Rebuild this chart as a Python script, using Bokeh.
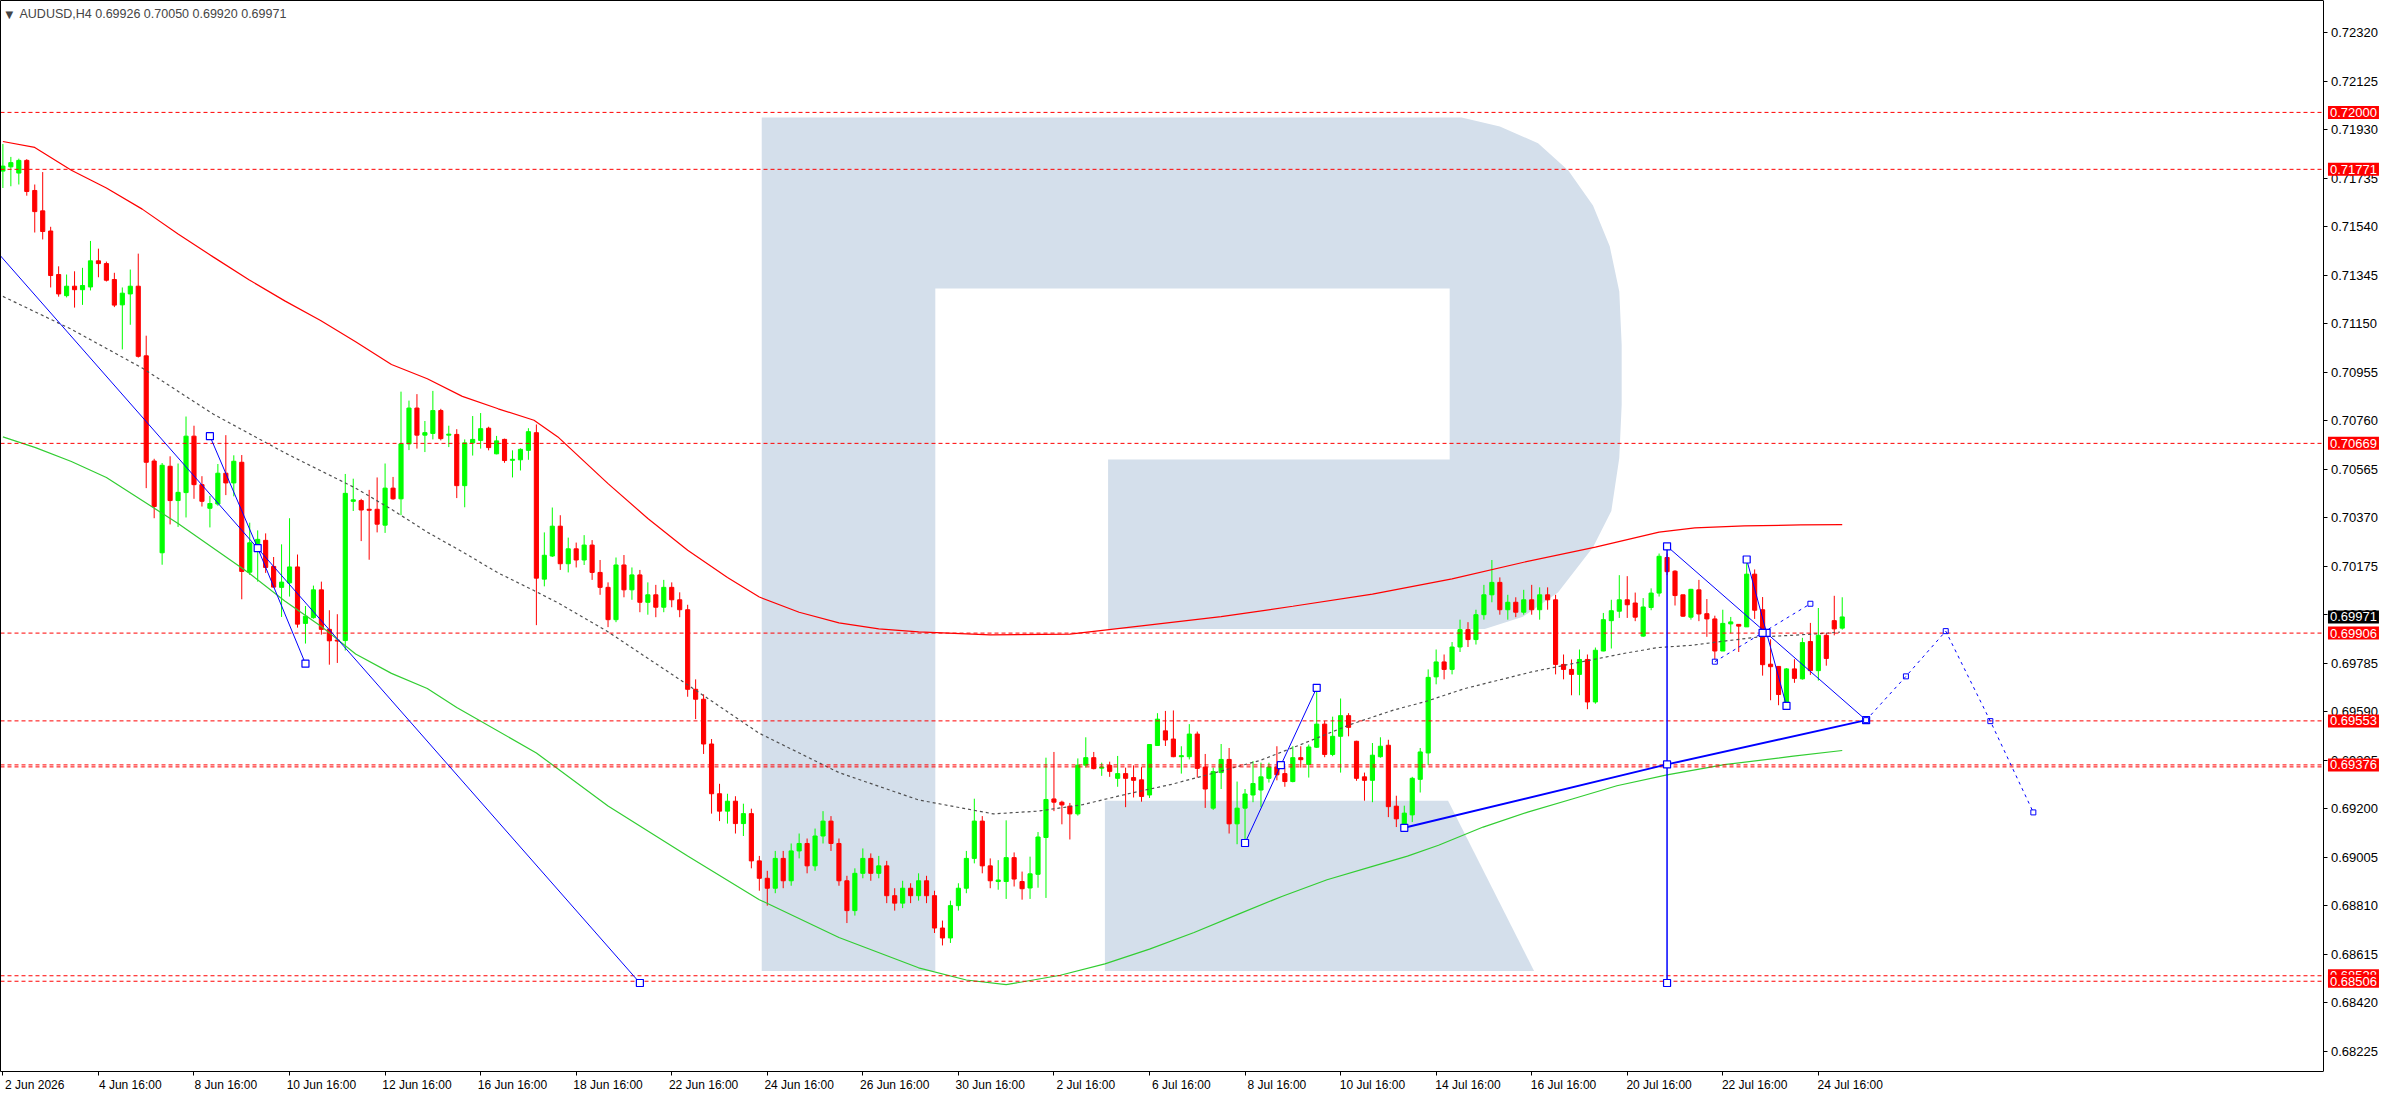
#!/usr/bin/env python3

from bokeh.embed import file_html
from bokeh.models import (ColumnDataSource, FixedTicker, Label, LinearAxis,
                          PrintfTickFormatter, Range1d)
from bokeh.plotting import figure
from bokeh.resources import INLINE

symbol = "AUDUSD,H4"

# H4 bars (bar 0 = 2 Jun 16:00)
opens = [
    0.71764, 0.71781, 0.71756, 0.71807, 0.71686, 0.71604, 0.71523, 0.71348, 0.71263, 0.71301,
    0.71287, 0.71298, 0.71403, 0.71392, 0.71328, 0.71226, 0.71270, 0.71301, 0.71021, 0.70598,
    0.70229, 0.70577, 0.70439, 0.70471, 0.70698, 0.70503, 0.70408, 0.70425, 0.70549, 0.70510,
    0.70593, 0.70151, 0.70240, 0.70279, 0.70174, 0.70090, 0.70108, 0.70172, 0.69945, 0.69968,
    0.70080, 0.69921, 0.69878, 0.69876, 0.70436, 0.70439, 0.70404, 0.70404, 0.70340, 0.70489,
    0.70446, 0.70667, 0.70811, 0.70702, 0.70709, 0.70801, 0.70702, 0.70705, 0.70499, 0.70671,
    0.70681, 0.70730, 0.70627, 0.70685, 0.70601, 0.70603, 0.70641, 0.70712, 0.70123, 0.70216,
    0.70336, 0.70185, 0.70245, 0.70200, 0.70260, 0.70150, 0.70090, 0.69960, 0.70180, 0.70080,
    0.70140, 0.70030, 0.70060, 0.70010, 0.70090, 0.70040, 0.70000, 0.69680, 0.69640, 0.69460,
    0.69260, 0.69190, 0.69230, 0.69140, 0.69180, 0.68990, 0.68920, 0.68880, 0.69000, 0.68910,
    0.69030, 0.69060, 0.68970, 0.69090, 0.69150, 0.69060, 0.68910, 0.68790, 0.68940, 0.69000,
    0.68940, 0.68970, 0.68850, 0.68820, 0.68880, 0.68850, 0.68910, 0.68850, 0.68720, 0.68680,
    0.68810, 0.68880, 0.69000, 0.69150, 0.68970, 0.68907, 0.68907, 0.69003, 0.68907, 0.68881,
    0.68936, 0.69084, 0.69239, 0.69226, 0.69210, 0.69179, 0.69375, 0.69405, 0.69363, 0.69374,
    0.69322, 0.69341, 0.69325, 0.69316, 0.69255, 0.69454, 0.69513, 0.69480, 0.69409, 0.69409,
    0.69500, 0.69367, 0.69202, 0.69345, 0.69398, 0.69139, 0.69202, 0.69255, 0.69275, 0.69322,
    0.69367, 0.69341, 0.69309, 0.69405, 0.69378, 0.69447, 0.69540, 0.69418, 0.69491, 0.69574,
    0.69471, 0.69328, 0.69314, 0.69409, 0.69455, 0.69210, 0.69135, 0.69175, 0.69318, 0.69424,
    0.69730, 0.69790, 0.69760, 0.69850, 0.69920, 0.69880, 0.69980, 0.70060, 0.70110, 0.70000,
    0.70030, 0.69990, 0.70040, 0.70000, 0.70060, 0.70040, 0.69780, 0.69760, 0.69740, 0.69800,
    0.69629, 0.69834, 0.69956, 0.69994, 0.70040, 0.70027, 0.69894, 0.70009, 0.70067, 0.70210,
    0.70155, 0.70060, 0.69970, 0.70080, 0.69984, 0.69963, 0.69834, 0.69943, 0.69941, 0.69931,
    0.70143, 0.70000, 0.69781, 0.69772, 0.69622, 0.69762, 0.69722, 0.69872, 0.69755, 0.69897,
    0.69956, 0.69926,
]
highs = [
    0.71873, 0.71821, 0.71814, 0.71812, 0.71710, 0.71760, 0.71540, 0.71381, 0.71348, 0.71361,
    0.71375, 0.71483, 0.71452, 0.71400, 0.71355, 0.71296, 0.71368, 0.71432, 0.71102, 0.70607,
    0.70590, 0.70617, 0.70588, 0.70777, 0.70740, 0.70537, 0.70458, 0.70586, 0.70702, 0.70621,
    0.70622, 0.70350, 0.70319, 0.70307, 0.70212, 0.70263, 0.70368, 0.70222, 0.70015, 0.70097,
    0.70113, 0.69998, 0.69982, 0.70546, 0.70527, 0.70446, 0.70482, 0.70532, 0.70588, 0.70534,
    0.70877, 0.70841, 0.70867, 0.70759, 0.70880, 0.70808, 0.70740, 0.70726, 0.70685, 0.70779,
    0.70791, 0.70736, 0.70699, 0.70688, 0.70641, 0.70649, 0.70730, 0.70745, 0.70311, 0.70411,
    0.70380, 0.70290, 0.70270, 0.70300, 0.70280, 0.70200, 0.70110, 0.70210, 0.70220, 0.70170,
    0.70160, 0.70110, 0.70100, 0.70120, 0.70110, 0.70070, 0.70020, 0.69720, 0.69660, 0.69480,
    0.69300, 0.69260, 0.69250, 0.69220, 0.69200, 0.69010, 0.68950, 0.69030, 0.69030, 0.69060,
    0.69100, 0.69080, 0.69120, 0.69190, 0.69170, 0.69080, 0.68930, 0.68960, 0.69040, 0.69020,
    0.69010, 0.68990, 0.68880, 0.68910, 0.68900, 0.68940, 0.68930, 0.68870, 0.68750, 0.68830,
    0.68900, 0.69030, 0.69240, 0.69170, 0.69000, 0.68993, 0.69153, 0.69024, 0.68947, 0.69007,
    0.69106, 0.69405, 0.69428, 0.69232, 0.69223, 0.69402, 0.69487, 0.69428, 0.69385, 0.69389,
    0.69412, 0.69365, 0.69374, 0.69367, 0.69460, 0.69584, 0.69593, 0.69595, 0.69451, 0.69540,
    0.69510, 0.69420, 0.69365, 0.69460, 0.69444, 0.69309, 0.69279, 0.69391, 0.69385, 0.69385,
    0.69451, 0.69365, 0.69451, 0.69451, 0.69458, 0.69686, 0.69553, 0.69570, 0.69643, 0.69584,
    0.69473, 0.69345, 0.69464, 0.69487, 0.69477, 0.69252, 0.69212, 0.69328, 0.69444, 0.69760,
    0.69840, 0.69820, 0.69870, 0.69960, 0.69950, 0.70000, 0.70100, 0.70200, 0.70130, 0.70060,
    0.70050, 0.70080, 0.70100, 0.70090, 0.70090, 0.70060, 0.69820, 0.69800, 0.69840, 0.69820,
    0.69848, 0.69987, 0.70040, 0.70139, 0.70135, 0.70069, 0.70047, 0.70086, 0.70226, 0.70226,
    0.70159, 0.70060, 0.70084, 0.70120, 0.70043, 0.69976, 0.70000, 0.69971, 0.69941, 0.70199,
    0.70162, 0.70051, 0.69881, 0.69772, 0.69765, 0.69801, 0.69887, 0.69947, 0.70007, 0.69907,
    0.70056, 0.70050,
]
lows = [
    0.71696, 0.71703, 0.71710, 0.71665, 0.71517, 0.71489, 0.71296, 0.71259, 0.71256, 0.71215,
    0.71226, 0.71284, 0.71337, 0.71320, 0.71217, 0.71047, 0.71146, 0.71014, 0.70489, 0.70368,
    0.70181, 0.70343, 0.70333, 0.70371, 0.70446, 0.70415, 0.70331, 0.70418, 0.70461, 0.70456,
    0.70042, 0.70140, 0.70113, 0.70148, 0.70089, 0.69971, 0.70053, 0.69928, 0.69864, 0.69964,
    0.69900, 0.69779, 0.69786, 0.69836, 0.70397, 0.70276, 0.70201, 0.70311, 0.70309, 0.70442,
    0.70380, 0.70642, 0.70648, 0.70634, 0.70685, 0.70681, 0.70654, 0.70449, 0.70412, 0.70620,
    0.70648, 0.70641, 0.70625, 0.70591, 0.70532, 0.70560, 0.70603, 0.69938, 0.70094, 0.70212,
    0.70160, 0.70150, 0.70170, 0.70180, 0.70120, 0.70060, 0.69930, 0.69950, 0.70050, 0.70040,
    0.69990, 0.69980, 0.69970, 0.69990, 0.70010, 0.69970, 0.69650, 0.69560, 0.69420, 0.69180,
    0.69150, 0.69140, 0.69100, 0.69090, 0.68960, 0.68870, 0.68810, 0.68860, 0.68880, 0.68890,
    0.69000, 0.68940, 0.68950, 0.69060, 0.69030, 0.68890, 0.68740, 0.68770, 0.68920, 0.68910,
    0.68920, 0.68820, 0.68790, 0.68800, 0.68820, 0.68830, 0.68820, 0.68700, 0.68650, 0.68660,
    0.68790, 0.68860, 0.68980, 0.68940, 0.68880, 0.68874, 0.68837, 0.68887, 0.68834, 0.68837,
    0.68882, 0.68841, 0.69190, 0.69137, 0.69076, 0.69172, 0.69365, 0.69358, 0.69332, 0.69328,
    0.69288, 0.69206, 0.69245, 0.69228, 0.69243, 0.69452, 0.69452, 0.69407, 0.69341, 0.69398,
    0.69325, 0.69203, 0.69195, 0.69279, 0.69100, 0.69057, 0.69060, 0.69226, 0.69206, 0.69305,
    0.69314, 0.69288, 0.69306, 0.69365, 0.69325, 0.69444, 0.69407, 0.69411, 0.69345, 0.69491,
    0.69312, 0.69232, 0.69226, 0.69405, 0.69166, 0.69126, 0.69119, 0.69146, 0.69265, 0.69375,
    0.69700, 0.69720, 0.69740, 0.69830, 0.69850, 0.69860, 0.69960, 0.70030, 0.69980, 0.69960,
    0.69970, 0.69980, 0.69980, 0.69960, 0.70000, 0.69740, 0.69720, 0.69656, 0.69656, 0.69600,
    0.69622, 0.69833, 0.69844, 0.69967, 0.69967, 0.69954, 0.69891, 0.69998, 0.70053, 0.70139,
    0.70017, 0.69971, 0.69960, 0.69954, 0.69891, 0.69801, 0.69834, 0.69905, 0.69830, 0.69931,
    0.69963, 0.69735, 0.69636, 0.69616, 0.69616, 0.69706, 0.69719, 0.69738, 0.69715, 0.69775,
    0.69897, 0.69920,
]
closes = [
    0.71784, 0.71798, 0.71807, 0.71682, 0.71601, 0.71521, 0.71344, 0.71270, 0.71301, 0.71287,
    0.71304, 0.71403, 0.71392, 0.71325, 0.71225, 0.71273, 0.71301, 0.71019, 0.70593, 0.70415,
    0.70581, 0.70439, 0.70472, 0.70698, 0.70503, 0.70436, 0.70427, 0.70549, 0.70510, 0.70597,
    0.70154, 0.70269, 0.70283, 0.70170, 0.70091, 0.70111, 0.70172, 0.69942, 0.69974, 0.70080,
    0.69921, 0.69875, 0.69874, 0.70468, 0.70442, 0.70401, 0.70400, 0.70344, 0.70489, 0.70446,
    0.70667, 0.70811, 0.70702, 0.70712, 0.70801, 0.70688, 0.70706, 0.70499, 0.70671, 0.70685,
    0.70728, 0.70652, 0.70679, 0.70600, 0.70605, 0.70645, 0.70716, 0.70127, 0.70219, 0.70336,
    0.70185, 0.70245, 0.70200, 0.70260, 0.70150, 0.70090, 0.69960, 0.70180, 0.70080, 0.70140,
    0.70030, 0.70060, 0.70010, 0.70090, 0.70040, 0.70000, 0.69680, 0.69640, 0.69460, 0.69260,
    0.69190, 0.69230, 0.69140, 0.69180, 0.68990, 0.68920, 0.68880, 0.69000, 0.68910, 0.69030,
    0.69060, 0.68970, 0.69090, 0.69150, 0.69060, 0.68910, 0.68790, 0.68940, 0.69000, 0.68940,
    0.68970, 0.68850, 0.68820, 0.68880, 0.68850, 0.68910, 0.68850, 0.68720, 0.68680, 0.68810,
    0.68880, 0.69000, 0.69150, 0.68970, 0.68910, 0.68913, 0.69003, 0.68917, 0.68878, 0.68938,
    0.69086, 0.69237, 0.69226, 0.69215, 0.69179, 0.69375, 0.69405, 0.69361, 0.69367, 0.69350,
    0.69341, 0.69322, 0.69314, 0.69249, 0.69458, 0.69560, 0.69476, 0.69409, 0.69413, 0.69500,
    0.69362, 0.69279, 0.69349, 0.69398, 0.69139, 0.69202, 0.69259, 0.69301, 0.69328, 0.69367,
    0.69336, 0.69309, 0.69405, 0.69397, 0.69448, 0.69540, 0.69418, 0.69491, 0.69574, 0.69527,
    0.69322, 0.69314, 0.69415, 0.69451, 0.69208, 0.69159, 0.69182, 0.69322, 0.69428, 0.69728,
    0.69790, 0.69760, 0.69850, 0.69920, 0.69880, 0.69980, 0.70060, 0.70110, 0.70000, 0.70030,
    0.69990, 0.70040, 0.70000, 0.70060, 0.70040, 0.69780, 0.69760, 0.69740, 0.69800, 0.69629,
    0.69837, 0.69960, 0.69996, 0.70040, 0.70020, 0.69970, 0.70011, 0.70067, 0.70215, 0.70153,
    0.70057, 0.69974, 0.70082, 0.69983, 0.69963, 0.69834, 0.69945, 0.69951, 0.69934, 0.70143,
    0.69998, 0.69779, 0.69771, 0.69659, 0.69762, 0.69724, 0.69868, 0.69755, 0.69897, 0.69804,
    0.69923, 0.69971,
]

# moving averages, sampled from the chart (bar, price)
red_ma_x = [0, 4, 8.6, 13, 17.5, 22, 26.4, 30.9, 35.4, 39.9, 44.3, 48.8, 53.3, 57.7, 62.2,
            66.7, 69.7, 76, 81, 86, 91, 95, 100, 105, 110, 115, 124, 134, 143, 153, 162,
            172, 182, 191, 200, 208, 212.5, 218.7, 225.8, 231]
red_ma_y = [0.71883, 0.71859, 0.71767, 0.71696, 0.71611, 0.71511, 0.71419, 0.71327, 0.71242,
            0.71163, 0.71078, 0.70986, 0.70929, 0.70858, 0.70808, 0.70762, 0.70695, 0.70507,
            0.70367, 0.70239, 0.70130, 0.70051, 0.69990, 0.69947, 0.69923, 0.69911, 0.69899,
            0.69902, 0.69935, 0.69972, 0.70014, 0.70063, 0.70124, 0.70191, 0.70252, 0.70312,
            0.70329, 0.70337, 0.70341, 0.70342]
green_ma_x = [0, 4.1, 8.6, 13, 17.5, 22, 26.4, 30.9, 35.4, 39.9, 44.3, 48.8, 53.3, 57, 67, 76,
              86, 95, 105, 115, 121, 126, 132.8, 138.4, 144, 149.6, 155.1, 160.7, 166.3, 171.9,
              176.4, 180.3, 185.9, 191.5, 197.1, 202.7, 209, 216.2, 224.6, 231]
green_ma_y = [0.70695, 0.70652, 0.70596, 0.70532, 0.70439, 0.70347, 0.70248, 0.70148, 0.70035,
              0.69935, 0.69822, 0.69744, 0.69683, 0.69607, 0.69424, 0.69211, 0.69010, 0.68834,
              0.68682, 0.68560, 0.68511, 0.68492, 0.68530, 0.68576, 0.68635, 0.68702, 0.68775,
              0.68848, 0.68914, 0.68967, 0.69009, 0.69053, 0.69126, 0.69186, 0.69239, 0.69292,
              0.69336, 0.69377, 0.69410, 0.69434]
gray_ma_x = [0, 8.6, 17.5, 26.4, 35.4, 44.3, 48.8, 53.3, 57.7, 62.2, 66.7, 69.7, 76, 86, 95,
             105, 115, 124.4, 130, 135.6, 141.2, 146.8, 152.3, 157.9, 163.5, 169.1, 174.7,
             178.6, 183.6, 192, 199.6, 203.7, 207.9, 212.1, 216.2, 220.4, 224.6, 228.8, 230.7]
gray_ma_y = [0.71260, 0.71128, 0.70972, 0.70787, 0.70631, 0.70489, 0.70404, 0.70312, 0.70233,
             0.70148, 0.70077, 0.70028, 0.69911, 0.69698, 0.69503, 0.69345, 0.69235, 0.69179,
             0.69190, 0.69216, 0.69259, 0.69298, 0.69345, 0.69394, 0.69464, 0.69537, 0.69597,
             0.69630, 0.69683, 0.69750, 0.69799, 0.69825, 0.69848, 0.69857, 0.69874, 0.69890,
             0.69897, 0.69905, 0.69910]

# drawn objects (bar, price)
trend_a_x = [-0.3, 80]
trend_a_y = [0.71423, 0.68499]
trend_b_x = [26, 32, 38]
trend_b_y = [0.70698, 0.70248, 0.69783]
trend_c_x = [156, 160.5, 165]
trend_c_y = [0.69062, 0.69375, 0.69686]
trend_d_x = [176, 209, 234]
trend_d_y = [0.69123, 0.69378, 0.69556]
vline_x = [209, 209]
vline_y = [0.70255, 0.68499]
trend_e_x = [209, 234]
trend_e_y = [0.70255, 0.69556]
trend_f_x = [219, 221.5, 224]
trend_f_y = [0.70202, 0.69907, 0.69613]
fan_x = [215, 227]
fan_y = [0.69791, 0.70024]
mark_x = [221.0]
mark_y = [0.69907]
forecast_x = [234, 239, 244, 249.6, 255]
forecast_y = [0.69556, 0.69732, 0.69914, 0.69552, 0.69185]

# horizontal levels
levels = [0.72000, 0.71771, 0.70669, 0.69906, 0.69553, 0.69376, 0.69368, 0.68528, 0.68506]
level_labels = ["0.72000", "0.71771", "0.70669", "0.69906", "0.69553", "0.69376", "",
                "0.68528", "0.68506"]

# watermark logo outline (bar, price)
logo_x = [95.3, 183.2, 188.0, 192.8, 196.6, 199.7, 201.8, 203.0, 203.3, 203.3, 203.0, 202.0,
          199.7, 195.3, 190.9, 186.1, 138.8, 138.8, 181.7, 181.7, 117.1, 117.1, 95.3]
logo_y = [0.71979, 0.71979, 0.71943, 0.71876, 0.71766, 0.71626, 0.71462, 0.71280, 0.71067,
          0.70823, 0.70610, 0.70397, 0.70251, 0.70069, 0.69972, 0.69923, 0.69923, 0.70604,
          0.70604, 0.71292, 0.71292, 0.68547, 0.68547]
leg_x = [138.4, 181.5, 192.3, 138.4]
leg_y = [0.69232, 0.69232, 0.68547, 0.68547]

x_ticks = [0, 12, 24, 36, 48, 60, 72, 84, 96, 108, 120, 132, 144, 156, 168, 180, 192, 204,
           216, 228]
x_labels = ["2 Jun 2026", "4 Jun 16:00", "8 Jun 16:00", "10 Jun 16:00", "12 Jun 16:00",
            "16 Jun 16:00", "18 Jun 16:00", "22 Jun 16:00", "24 Jun 16:00", "26 Jun 16:00",
            "30 Jun 16:00", "2 Jul 16:00", "6 Jul 16:00", "8 Jul 16:00", "10 Jul 16:00",
            "14 Jul 16:00", "16 Jul 16:00", "20 Jul 16:00", "22 Jul 16:00", "24 Jul 16:00"]
y_ticks = [0.72320, 0.72125, 0.71930, 0.71735, 0.71540, 0.71345, 0.71150, 0.70955, 0.70760,
           0.70565, 0.70370, 0.70175, 0.69980, 0.69785, 0.69590, 0.69395, 0.69200, 0.69005,
           0.68810, 0.68615, 0.68420, 0.68225]

FONT = "Liberation Sans"
BLUE = "#0000ff"


def border_axis(**kw):
    # axis with no ticks, used only as a border line
    ax = LinearAxis(ticker=FixedTicker(ticks=[]), **kw)
    ax.axis_line_color = "black"
    ax.major_tick_line_color = None
    ax.minor_tick_line_color = None
    ax.major_tick_out = 0
    ax.major_label_standoff = 0
    return ax


def main():
    x_start, price_x, x_end = -0.3, 291.5, 298.6
    y_start, y_end = 0.68143, 0.72450

    p = figure(width=2380, height=1094, output_backend="svg", toolbar_location=None,
               x_range=Range1d(x_start, x_end), y_range=Range1d(y_start, y_end),
               x_axis_location=None, y_axis_location=None,
               min_border_left=0, min_border_top=0, min_border_right=0, min_border_bottom=0)
    p.grid.visible = False
    p.outline_line_color = None

    # watermark
    p.patches(xs=[logo_x, leg_x], ys=[logo_y, leg_y], fill_color="#d4dfeb", line_color=None)

    # candles
    colors = ["#00ff00" if c >= o else "#ff0000" for o, c in zip(opens, closes)]
    candles = ColumnDataSource(data={
        'x': list(range(len(closes))),
        'high': highs,
        'low': lows,
        'top': [max(o, c) for o, c in zip(opens, closes)],
        'bottom': [min(o, c) for o, c in zip(opens, closes)],
        'color': colors,
    })
    p.segment(x0='x', y0='low', x1='x', y1='high', source=candles, line_color='color',
              line_width=1)
    p.vbar(x='x', width=0.52, top='top', bottom='bottom', source=candles,
           fill_color='color', line_color='color', line_width=1)

    # moving averages
    p.line(red_ma_x, red_ma_y, line_color="#ff0000", line_width=1.2)
    p.line(green_ma_x, green_ma_y, line_color="#32cd32", line_width=1.2)
    p.line(gray_ma_x, gray_ma_y, line_color="#505050", line_width=1.2, line_dash="3 3")

    # levels, up to the price scale
    p.segment(x0=[x_start] * len(levels), y0=levels, x1=[price_x] * len(levels), y1=levels,
              line_color="#ff0000", line_width=1, line_dash="4 3")

    # drawn trend lines
    p.line(trend_a_x, trend_a_y, line_color=BLUE, line_width=1)
    p.line(trend_b_x, trend_b_y, line_color=BLUE, line_width=1)
    p.line(trend_c_x, trend_c_y, line_color=BLUE, line_width=1)
    p.line(trend_d_x, trend_d_y, line_color=BLUE, line_width=2)
    p.line(vline_x, vline_y, line_color=BLUE, line_width=1.5)
    p.line(trend_e_x, trend_e_y, line_color=BLUE, line_width=1)
    p.line(trend_f_x, trend_f_y, line_color=BLUE, line_width=1)
    p.line(fan_x, fan_y, line_color=BLUE, line_width=1, line_dash="3 4")
    p.line(forecast_x, forecast_y, line_color=BLUE, line_width=1, line_dash="3 4")
    for xs, ys in [(trend_a_x[1:], trend_a_y[1:]), (trend_b_x, trend_b_y),
                   (trend_c_x, trend_c_y), (trend_d_x, trend_d_y), (vline_x, vline_y),
                   (trend_f_x, trend_f_y), (mark_x, mark_y)]:
        p.scatter(xs, ys, marker="square", size=7, line_color=BLUE, fill_color="white",
                  line_width=1.2)
    p.scatter(fan_x + forecast_x, fan_y + forecast_y, marker="square", size=5,
              line_color=BLUE, fill_color=None, line_width=1)

    # borders
    p.add_layout(border_axis(bounds=(x_start, price_x)), "above")
    p.add_layout(border_axis(), "left")

    # time scale: minor ticks mark the bars, labels start right after each tick
    shift = 4
    time_axis = LinearAxis(
        ticker=FixedTicker(ticks=[t + shift for t in x_ticks], minor_ticks=x_ticks),
        major_label_overrides={t + shift: s for t, s in zip(x_ticks, x_labels)},
        bounds=(x_start, price_x))
    time_axis.axis_line_color = "black"
    time_axis.major_tick_line_color = None
    time_axis.major_tick_in = 0
    time_axis.major_tick_out = 4
    time_axis.minor_tick_line_color = "black"
    time_axis.minor_tick_in = 0
    time_axis.minor_tick_out = 4
    time_axis.major_label_standoff = 2
    time_axis.major_label_text_font = FONT
    time_axis.major_label_text_font_size = "12px"
    time_axis.major_label_text_color = "black"
    p.add_layout(time_axis, "below")

    # price scale, fixed at the end of the bar area
    price_axis = LinearAxis(fixed_location=price_x, ticker=FixedTicker(ticks=y_ticks),
                            formatter=PrintfTickFormatter(format="%.5f"))
    price_axis.axis_line_color = "black"
    price_axis.major_tick_line_color = "black"
    price_axis.minor_tick_line_color = None
    price_axis.major_tick_in = 0
    price_axis.major_tick_out = 4
    price_axis.major_label_standoff = 3
    price_axis.major_label_text_font = FONT
    price_axis.major_label_text_font_size = "13px"
    price_axis.major_label_text_color = "black"
    p.add_layout(price_axis, "right")

    # price tags on the scale
    for lvl, txt in zip(levels, level_labels):
        if txt:
            p.add_layout(Label(x=price_x, y=lvl, x_offset=4, text=txt, text_color="white",
                               text_font=FONT, text_font_size="13px",
                               text_baseline="middle", background_fill_color="#ff0000",
                               padding=2))
    p.add_layout(Label(x=price_x, y=closes[-1], x_offset=4, text=f"{closes[-1]:.5f}",
                       text_color="white", text_font=FONT, text_font_size="13px",
                       text_baseline="middle", background_fill_color="black", padding=2))

    # header
    p.add_layout(Label(x=x_start, y=y_end, x_offset=5, y_offset=-8, text="\u25bc",
                       text_font="DejaVu Sans", text_font_size="10px", text_baseline="top"))
    header = f"{symbol}  {opens[-1]:.5f} {highs[-1]:.5f} {lows[-1]:.5f} {closes[-1]:.5f}"
    p.add_layout(Label(x=x_start, y=y_end, x_offset=19, y_offset=-6, text=header,
                       text_font=FONT, text_font_size="12.5px", text_baseline="top"))

    open("out.html", "w").write(file_html(p, INLINE))


if __name__ == '__main__':
    main()
